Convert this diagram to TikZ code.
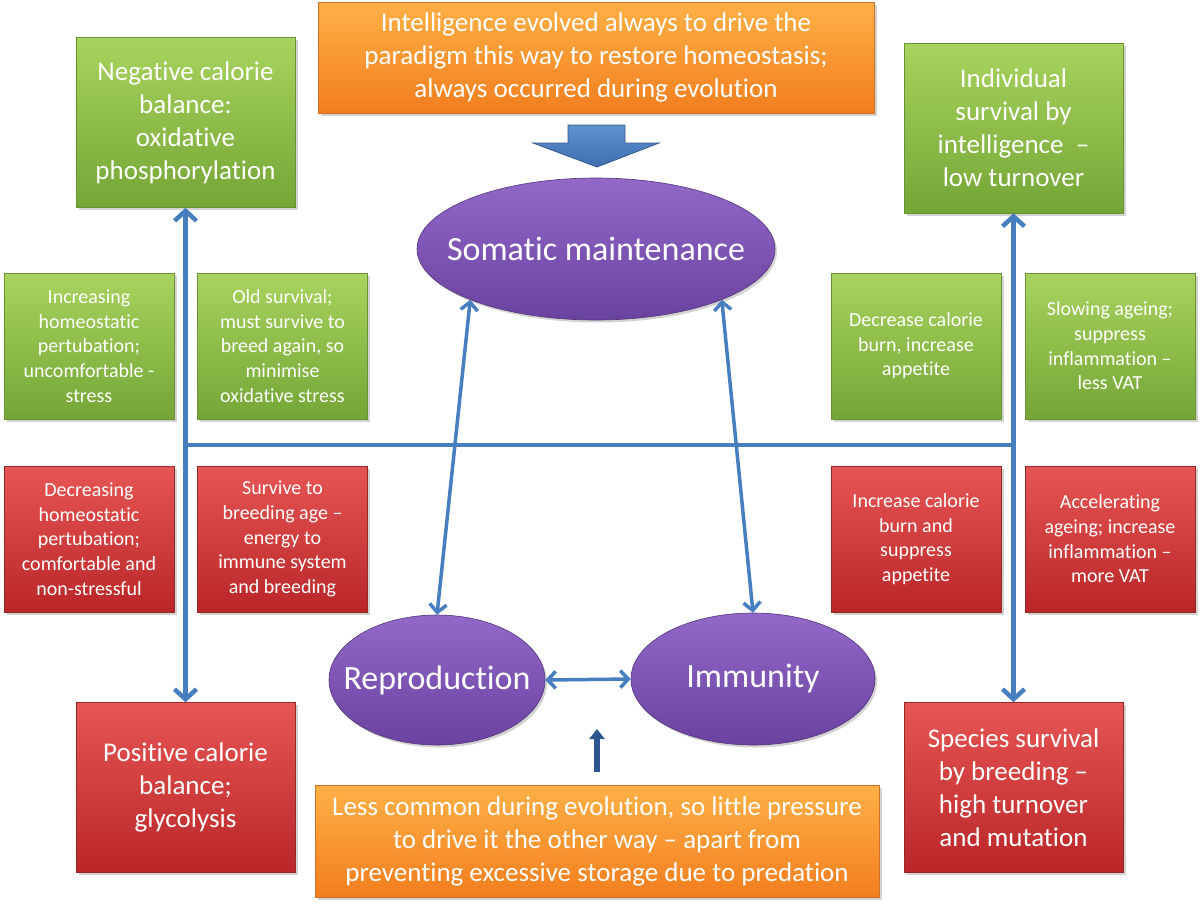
\documentclass[tikz,border=0pt]{standalone}
\usepackage{fontspec}
\setmainfont{Carlito}[Ligatures={NoCommon,NoContextual}]
\usetikzlibrary{arrows.meta,shapes.geometric,shadows}
\definecolor{gtop}{RGB}{168,211,94}
\definecolor{gbot}{RGB}{116,166,54}
\definecolor{gedge}{RGB}{104,146,52}
\definecolor{rtop}{RGB}{230,86,84}
\definecolor{rbot}{RGB}{186,38,40}
\definecolor{redge}{RGB}{150,40,40}
\definecolor{otop}{RGB}{255,176,70}
\definecolor{obot}{RGB}{242,126,30}
\definecolor{oedge}{RGB}{205,112,40}
\definecolor{ptop}{RGB}{146,104,200}
\definecolor{pbot}{RGB}{106,66,160}
\definecolor{pedge}{RGB}{82,52,122}
\definecolor{lineblue}{RGB}{70,126,192}
\definecolor{darkblue}{RGB}{46,86,142}
\definecolor{atop}{RGB}{96,146,210}
\definecolor{abot}{RGB}{62,110,176}
\definecolor{aedge}{RGB}{52,90,140}
\begin{document}
\begin{tikzpicture}[x=1pt,y=-1pt,
  box/.style={rectangle, line width=0.6pt, text=white, align=center, inner sep=0pt,
    drop shadow={opacity=0.35,shadow xshift=2.5pt,shadow yshift=-2.5pt}},
  greenbox/.style={box, draw=gedge, top color=gtop, bottom color=gbot},
  redbox/.style={box, draw=redge, top color=rtop, bottom color=rbot},
  orangebox/.style={box, draw=oedge, top color=otop, bottom color=obot,
    font=\fontsize{27}{33}\selectfont},
  big/.style={minimum width=219pt, minimum height=170pt, font=\fontsize{27}{33}\selectfont},
  small/.style={minimum width=170pt, minimum height=146pt, font=\fontsize{20}{24.6}\selectfont},
  oval/.style={ellipse, draw=pedge, line width=0.6pt, top color=ptop, bottom color=pbot,
    text=white, inner sep=0pt, font=\fontsize{34}{40}\selectfont,
    drop shadow={opacity=0.35,shadow xshift=2pt,shadow yshift=-2.5pt}},
  link/.style={draw=lineblue, line width=4.5pt, >={Straight Barb[length=10pt,width=22pt]}},
  thinlink/.style={draw=lineblue, line width=3.5pt, >={Straight Barb[length=8pt,width=17pt]}},
  push/.style={draw=darkblue, line width=6pt, -{Triangle[length=10pt,width=15pt]}}
]
\fill[white] (0,0) rectangle (1200,905);
\useasboundingbox (0,0) rectangle (1200,905);

% orange boxes
\node[orangebox, minimum width=556pt, minimum height=111pt] (top) at (596,57.5)
  {Intelligence evolved always to drive the\\paradigm this way to restore homeostasis;\\always occurred during evolution};
\node[orangebox, minimum width=564pt, minimum height=112pt] (bot) at (597,841)
  {Less common during evolution, so little pressure\\to drive it the other way – apart from\\preventing excessive storage due to predation};

% big boxes
\node[greenbox, big] (neg) at (185.5,122.5) {Negative calorie\\balance:\\oxidative\\phosphorylation};
\node[greenbox, big] (ind) at (1013.5,128) {Individual\\survival by\\intelligence\ \ –\\low turnover};
\node[redbox, big] (pos) at (185.5,787.5) {Positive calorie\\balance;\\glycolysis};
\node[redbox, big] (spe) at (1013.5,787.5) {Species survival\\by breeding –\\high turnover\\and mutation};

% small boxes
\node[greenbox, small] (gl1) at (89,346) {Increasing\\homeostatic\\pertubation;\\uncomfortable -\\stress};
\node[greenbox, small] (gl2) at (282.5,346) {Old survival;\\must survive to\\breed again, so\\minimise\\oxidative stress};
\node[greenbox, small] (gr1) at (916,346) {Decrease calorie\\burn, increase\\appetite};
\node[greenbox, small] (gr2) at (1110,346) {Slowing ageing;\\suppress\\inflammation –\\less VAT};
\node[redbox, small] (rl1) at (89,539) {Decreasing\\homeostatic\\pertubation;\\comfortable and\\non-stressful};
\node[redbox, small] (rl2) at (282.5,539) {Survive to\\breeding age –\\energy to\\immune system\\and breeding};
\node[redbox, small] (rr1) at (916,539) {Increase calorie\\burn and\\suppress\\appetite};
\node[redbox, small] (rr2) at (1110,539) {Accelerating\\ageing; increase\\inflammation –\\more VAT};

% ellipses
\node[oval, minimum width=358pt, minimum height=142pt] (som) at (596,249) {\makebox[0pt]{Somatic maintenance}};
\node[oval, minimum width=216pt, minimum height=130pt] (rep) at (437,680) {\makebox[0pt]{Reproduction}};
\node[oval, minimum width=244pt, minimum height=132pt] (imm) at (753,679) {\makebox[0pt]{Immunity}};

% block arrow
\draw[draw=aedge, line width=0.8pt, top color=atop, bottom color=abot]
  (568,125) -- (625,125) -- (625,143) -- (659,143) -- (597,167) -- (533,143) -- (568,143) -- cycle;

% connectors
\coordinate (hl) at (185.5,445);
\coordinate (hr) at (1013.5,445);
\draw[link, <->] (neg.south) -- (pos.north);
\draw[link, <->] (ind.south) -- (spe.north);
\draw[draw=lineblue, line width=4pt] (hl) -- (hr);
\draw[thinlink, <->] (som.202) -- (rep.north);
\draw[thinlink, <->] (som.338) -- (imm.north);
\draw[thinlink, <->] (rep.east) -- (imm.west);

\coordinate (ps) at (597,772);
\coordinate (pe) at (597,729);
\draw[push] (ps) -- (pe);
\end{tikzpicture}
\end{document}
